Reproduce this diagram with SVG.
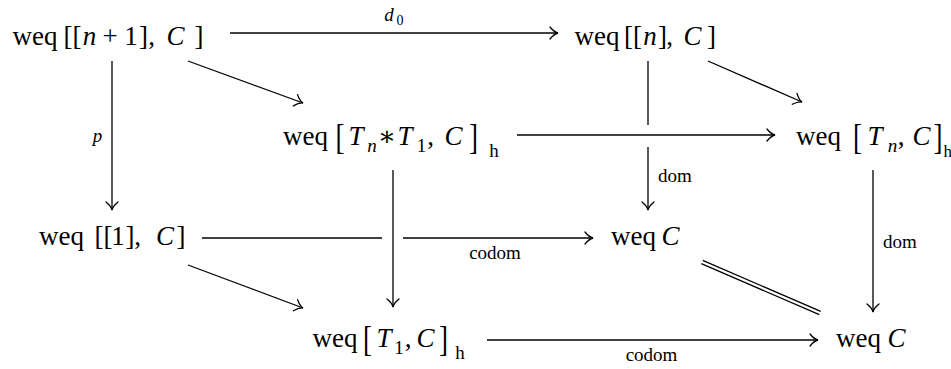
<svg xmlns="http://www.w3.org/2000/svg" width="951" height="369" viewBox="0 0 951 369" font-family="'Liberation Serif', 'Times New Roman', Times, 'Noto Serif', 'DejaVu Serif', serif">
<style>
text{font-family:'Liberation Serif','Times New Roman',Times,'Noto Serif','DejaVu Serif',serif;fill:#000;text-anchor:middle}
.m{font-size:27px}
.i{font-style:italic}
.s{font-size:19px}
.ss{font-size:14px}
.ln{fill:none;stroke:#000;stroke-width:1.3}
</style>
<defs>
<marker id="ah" markerUnits="userSpaceOnUse" markerWidth="20" markerHeight="20" viewBox="-10 -10 20 20" refX="0" refY="0" orient="auto" overflow="visible">
<path d="M-8,-6 C-5,-2.2 -2.5,-0.6 0,0 C-2.5,0.6 -5,2.2 -8,6" fill="none" stroke="#000" stroke-width="1.3" stroke-linecap="round"/>
</marker>
</defs>

<g id="n1">
<text class="m" y="45"><tspan x="35">weq</tspan><tspan x="72.5">[[</tspan><tspan x="89.5" class="i">n</tspan><tspan x="110">+</tspan><tspan x="131">1</tspan><tspan x="143.5">]</tspan><tspan x="151.5">,</tspan><tspan x="175.5" class="i">C</tspan><tspan x="199">]</tspan></text>
</g>

<g id="n2">
<text class="m" y="45"><tspan x="597">weq</tspan><tspan x="633">[[</tspan><tspan x="650" class="i">n</tspan><tspan x="662.5">]</tspan><tspan x="669.5">,</tspan><tspan x="692.5" class="i">C</tspan><tspan x="711.5">]</tspan></text>
</g>

<g id="n3">
<text class="m" x="305.5" y="145">weq</text>
<text class="m" transform="translate(340,149) scale(1,1.35)">[</text>
<text class="m i" x="356" y="145">T</text>
<text class="s i" x="372" y="152">n</text>
<text class="m" x="387" y="145">∗</text>
<text class="m i" x="405" y="145">T</text>
<text class="s" x="421.5" y="152">1</text>
<text class="m" x="430.5" y="145">,</text>
<text class="m i" x="453.5" y="145">C</text>
<text class="m" transform="translate(473.5,149) scale(1,1.35)">]</text>
<text class="s" x="494" y="157">h</text>
</g>

<g id="n4">
<text class="m" x="818.5" y="145">weq</text>
<text class="m" transform="translate(857.5,149) scale(1,1.35)">[</text>
<text class="m i" x="875" y="145">T</text>
<text class="s i" x="892.5" y="152">n</text>
<text class="m" x="901" y="145">,</text>
<text class="m i" x="921.5" y="145">C</text>
<text class="m" transform="translate(938,149) scale(1,1.35)">]</text>
<text style="font-size:17px;text-anchor:start" x="943.5" y="157">h</text>
</g>

<g id="n5">
<text class="m" y="245"><tspan x="61.5">weq</tspan><tspan x="103.5">[[</tspan><tspan x="118">1</tspan><tspan x="130">]</tspan><tspan x="137.5">,</tspan><tspan x="165" class="i">C</tspan><tspan x="181">]</tspan></text>
</g>

<g id="n6">
<text class="m" y="245"><tspan x="633.5">weq</tspan><tspan x="670.5" class="i">C</tspan></text>
</g>

<g id="n7">
<text class="m" x="335" y="347">weq</text>
<text class="m" transform="translate(367.5,351) scale(1,1.35)">[</text>
<text class="m i" x="384" y="347">T</text>
<text class="s" x="399" y="354">1</text>
<text class="m" x="408" y="347">,</text>
<text class="m i" x="425.5" y="347">C</text>
<text class="m" transform="translate(443.5,351) scale(1,1.35)">]</text>
<text class="s" x="460" y="359">h</text>
</g>

<g id="n8">
<text class="m" y="347"><tspan x="858.5">weq</tspan><tspan x="896.5" class="i">C</tspan></text>
</g>

<g id="connectors">
<line class="ln" x1="230" y1="33" x2="558" y2="33" marker-end="url(#ah)"/>
<line class="ln" x1="188" y1="61" x2="303" y2="103" marker-end="url(#ah)"/>
<line class="ln" x1="708" y1="61" x2="802" y2="102" marker-end="url(#ah)"/>
<line class="ln" x1="112" y1="61" x2="112" y2="210" marker-end="url(#ah)"/>
<line class="ln" x1="517" y1="135" x2="775" y2="135" marker-end="url(#ah)"/>
<line class="ln" x1="648" y1="61" x2="648" y2="125"/>
<line class="ln" x1="648" y1="147" x2="648" y2="210" marker-end="url(#ah)"/>
<line class="ln" x1="873" y1="170" x2="873" y2="312" marker-end="url(#ah)"/>
<line class="ln" x1="393" y1="170" x2="393" y2="307" marker-end="url(#ah)"/>
<line class="ln" x1="202" y1="238" x2="382" y2="238"/>
<line class="ln" x1="403" y1="238" x2="593" y2="238" marker-end="url(#ah)"/>
<line class="ln" x1="188" y1="265" x2="303" y2="308" marker-end="url(#ah)"/>
<line class="ln" x1="487" y1="340" x2="818" y2="340" marker-end="url(#ah)"/>
<line class="ln" x1="701.3" y1="263.6" x2="819.3" y2="314.6"/>
<line class="ln" x1="702.7" y1="260.4" x2="820.7" y2="311.4"/>
<text class="s i" x="389" y="21">d</text>
<text class="ss" x="400" y="25">0</text>
<text class="s i" x="97.5" y="142">p</text>
<text class="s" x="675" y="182">dom</text>
<text class="s" x="900" y="248">dom</text>
<text class="s" x="495" y="259">codom</text>
<text class="s" x="651.5" y="361">codom</text>
</g>
</svg>
